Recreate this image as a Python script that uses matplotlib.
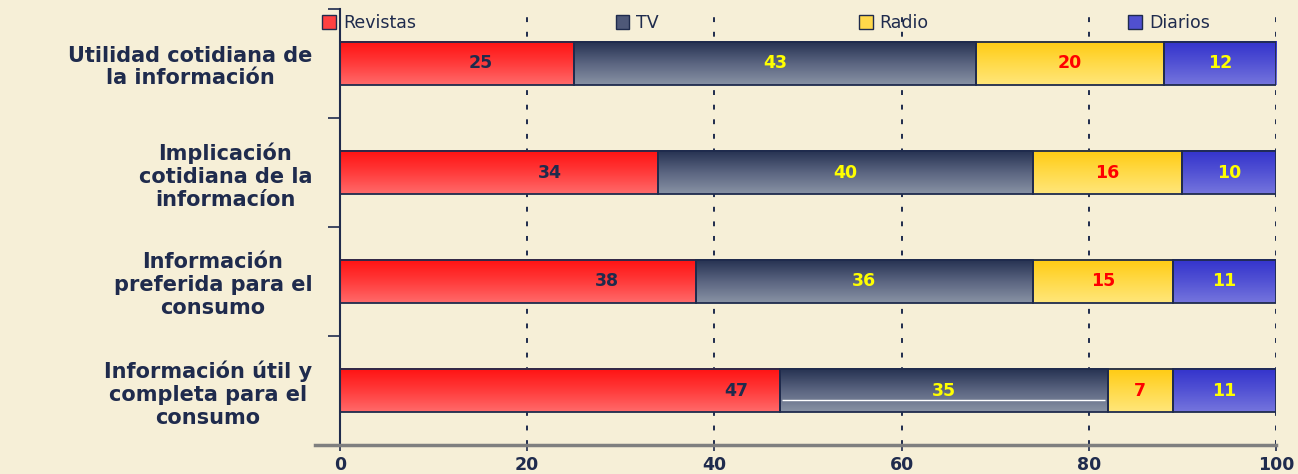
import numpy as np
import matplotlib
matplotlib.use("Agg")
import matplotlib.pyplot as plt
from matplotlib.colors import LinearSegmentedColormap
from matplotlib.patches import Patch

# Data
categories = [
    "Utilidad cotidiana de\nla información",
    "Implicación\ncotidiana de la\ninformacíon",
    "Información\npreferida para el\nconsumo",
    "Información útil y\ncompleta para el\nconsumo",
]
series_names = ["Revistas", "TV", "Radio", "Diarios"]
revistas = [25, 34, 38, 47]
tv = [43, 40, 36, 35]
radio = [20, 16, 15, 7]
diarios = [12, 10, 11, 11]
x_ticks = [0, 20, 40, 60, 80, 100]

series_values = [revistas, tv, radio, diarios]

# Styling
BG = "#F6EFD7"
NAVY = "#1F2B4D"
gradients = {
    "Revistas": ["#FF1212", "#FF3A3A", "#FF6A6A"],
    "TV": ["#253151", "#5A6480", "#8892A4"],
    "Radio": ["#FFCB12", "#FFDA48", "#FFE67A"],
    "Diarios": ["#3333CC", "#5252D4", "#7575DD"],
}
legend_face = {"Revistas": "#FF4040", "TV": "#4E5878", "Radio": "#FFD84A", "Diarios": "#5050D0"}
label_colors = {"Revistas": NAVY, "TV": "#FFFF00", "Radio": "#FF0000", "Diarios": "#FFFF00"}
# horizontal anchor of the value label inside each Revistas segment (fraction of width)
rev_label_frac = [0.6, 0.66, 0.75, 0.9]

fig = plt.figure(figsize=(12.98, 4.74), dpi=100, facecolor=BG)
ax = fig.add_axes([340 / 1298, 1 - 445 / 474, (1276 - 340) / 1298, (445 - 9) / 474])
ax.set_facecolor(BG)

n = len(categories)
ypos = np.arange(n)[::-1]  # first category on top
bar_h = 0.4

grad = np.linspace(0, 1, 64).reshape(-1, 1)
lefts = np.zeros(n)
for name, vals in zip(series_names, series_values):
    cmap = LinearSegmentedColormap.from_list(name, gradients[name])
    for i, (y, v) in enumerate(zip(ypos, vals)):
        x0 = lefts[i]
        ax.imshow(grad, cmap=cmap, aspect="auto", origin="upper",
                  extent=[x0, x0 + v, y - bar_h / 2, y + bar_h / 2],
                  zorder=2, interpolation="bilinear")
    ax.barh(ypos, vals, left=lefts, height=bar_h, facecolor="none",
            edgecolor=NAVY, linewidth=1.3, zorder=3)
    for i, (y, v) in enumerate(zip(ypos, vals)):
        frac = rev_label_frac[i] if name == "Revistas" else 0.5
        ax.text(lefts[i] + v * frac, y, str(v), ha="center", va="center",
                fontsize=12.5, fontweight="bold", color=label_colors[name],
                family="DejaVu Sans", zorder=4)
    lefts = lefts + np.array(vals)

# thin highlight inside the last TV segment
last = n - 1
ax.hlines(ypos[last] - 0.09, revistas[last] + 0.2, revistas[last] + tv[last] - 0.3,
          color="white", linewidth=1.0, zorder=3.5)

ax.set_xlim(0, 100)
ax.set_ylim(-0.5, n - 0.5)

# grid
ax.set_xticks(x_ticks)
for xv in x_ticks[1:]:
    ax.axvline(xv, color=NAVY, linestyle=(0, (2.5, 5)), linewidth=1.4, zorder=1)

# y axis: category labels with ticks between categories
ax.set_yticks(ypos)
ax.set_yticklabels(categories, fontsize=15, fontweight="bold", color=NAVY,
                   family="DejaVu Sans", multialignment="center", linespacing=1.18)
ax.tick_params(axis="y", length=0, pad=20)
ax.set_yticks(np.arange(n + 1) - 0.5, minor=True)
ax.tick_params(axis="y", which="minor", length=9, width=1.2, color=NAVY, direction="out")

ax.set_xticklabels([str(t) for t in x_ticks], fontsize=12.5, fontweight="bold",
                   color=NAVY, family="DejaVu Sans")
ax.tick_params(axis="x", length=4, width=1.2, color=NAVY, direction="out", pad=4)

for s in ["top", "right"]:
    ax.spines[s].set_visible(False)
ax.spines["left"].set_color(NAVY)
ax.spines["left"].set_linewidth(1.5)
ax.spines["bottom"].set_color("#7F7F7F")
ax.spines["bottom"].set_linewidth(2.5)
ax.spines["bottom"].set_bounds(-2.7, 100)

handles = [Patch(facecolor=legend_face[s], edgecolor=NAVY, linewidth=1.0) for s in series_names]
leg = fig.legend(handles, series_names, loc="center", ncol=4,
                 bbox_to_anchor=(766 / 1298, 1 - 23 / 474), frameon=False,
                 fontsize=12.5, handlelength=0.8, handleheight=0.8,
                 handletextpad=0.4, columnspacing=11.5)
for t in leg.get_texts():
    t.set_color(NAVY)

fig.savefig("out.png", dpi=100, facecolor=BG)
